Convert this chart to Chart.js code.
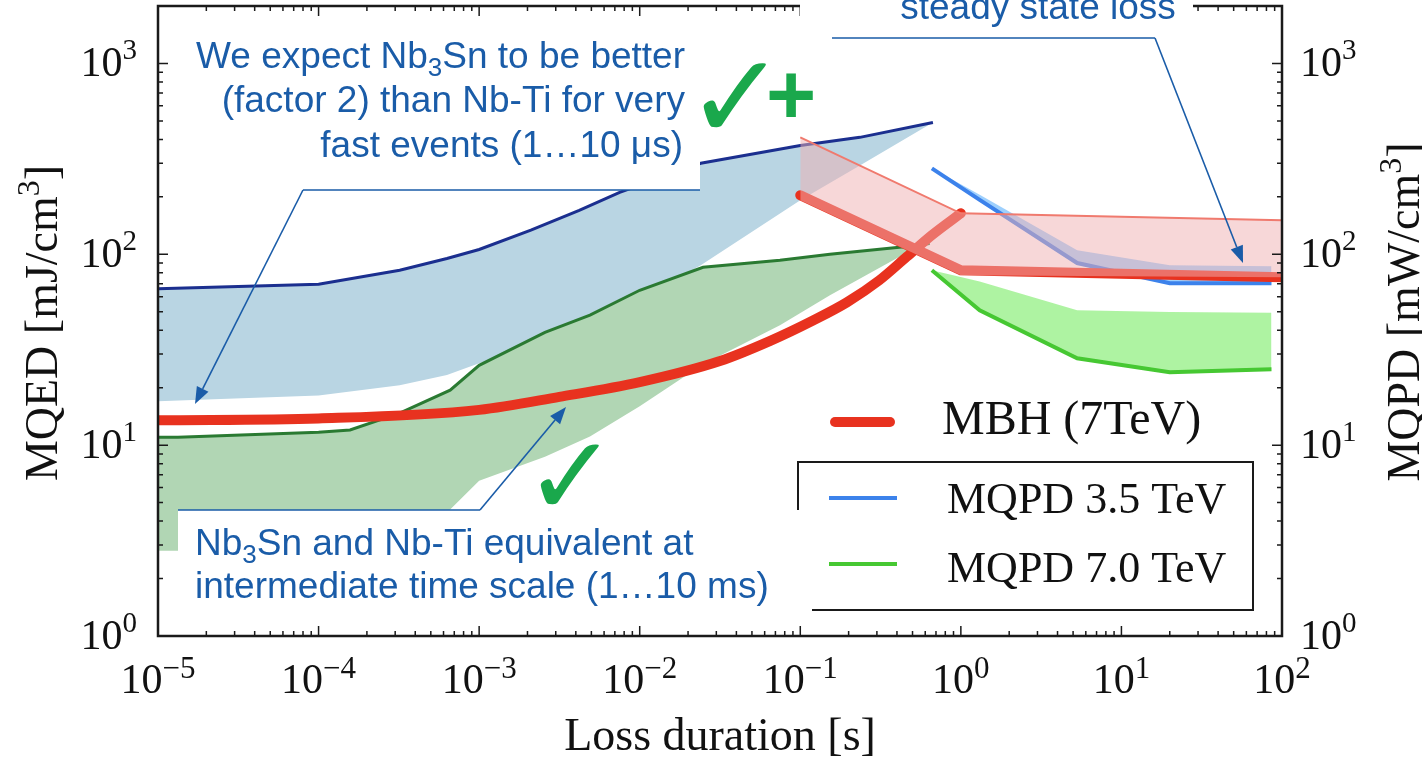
<!DOCTYPE html>
<html lang="pt-br">
<head>
<meta charset="utf-8">
<title>MQED / MQPD</title>
<script src="https://cdn.jsdelivr.net/npm/chart.js@4.4.1/dist/chart.umd.min.js"></script>
<style>
  body { margin: 0; background: #fff; }
  canvas { display: block; }
</style>
</head>
<body>
<canvas id="graficoQuench" width="1422" height="758"></canvas>
<script>
// Faixa azul (Nb3Sn): limite superior e inferior
var tempoNb3Sn = [1e-5, 1e-4, 3.2e-4, 6.3e-4, 1e-3, 2.1e-3, 4.2e-3, 7.5e-3, 0.024, 0.1, 0.235, 0.67];
var nb3snSup = [66, 69.7, 82.5, 95, 106, 134, 170, 211, 300, 372, 410, 491];
var nb3snInf = [17, 18.2, 20.6, 23.3, 26.9, 32, 40, 50, 87.6, 192, 292, 491];

// Faixa verde (Nb-Ti)
var tempoNbTi = [1e-5, 1.33e-5, 1e-4, 1.57e-4, 3.2e-4, 6.6e-4, 1e-3, 2.57e-3, 4.9e-3, 1e-2, 0.0248, 0.0747, 0.153, 0.46, 0.64];
var nbtiSup = [11.0, 11.0, 11.7, 12.0, 14.7, 19.4, 26.2, 39.0, 48, 64.8, 85.5, 93, 100, 110, 114];
var nbtiInf = [2.8, 2.8, 2.8, 2.9, 3.3, 4.6, 6.5, 8.7, 11.1, 16, 26.5, 42.5, 61, 102, 114];

// MBH (7TeV)
var tempoMBH = [1e-5, 1e-4, 1e-3, 3.16e-3, 1e-2, 3.16e-2, 6.5e-2, 0.12, 0.195, 0.31, 0.46, 0.66, 1.0];
var mbh = [13.5, 13.8, 15.3, 17.9, 21.4, 27.6, 35.2, 45, 56, 73, 97, 126, 164];

// Regime permanente (faixa rosa) e linha MBH correspondente
var tempoRegime = [0.1, 1, 100];
var regimeSup = [410, 164, 151];
var regimeInf = [192, 77.6, 75.8];
var mbhRegime = [204, 82.5, 75.8];

// MQPD 3.5 TeV e 7.0 TeV (eixo da direita)
var tempoMQPD = [0.66, 1.31, 5.3, 20, 86];
var mqpd35 = [282, 193, 90, 70.5, 70.5];
var mqpd35Sup = [282, 205, 105, 87.6, 86.7];
var mqpd70 = [82.5, 50.9, 28.5, 24.1, 25.0];
var mqpd70Sup = [82.5, 72, 50.9, 49.9, 49.4];

// expoentes das marcas principais
var decadasX = [-5, -4, -3, -2, -1, 0, 1, 2];
var decadasY = [0, 1, 2, 3];

var azulTexto = '#1a5ca8';
var vermelho = '#e8321f';
var fonteSerif = '"Liberation Serif", "DejaVu Serif", serif';
var fonteSans = '"Liberation Sans", Arial, sans-serif';

function pontos(xs, ys) {
  return xs.map(function (x, i) { return { x: x, y: ys[i] }; });
}

// escreve pedaços de texto em sequência (para expoentes e índices)
function escreve(ctx, partes, x, y, alinhamento) {
  var larg = 0;
  partes.forEach(function (p) { ctx.font = p[1]; larg += ctx.measureText(p[0]).width; });
  var x0 = x;
  if (alinhamento === 'center') x0 = x - larg / 2;
  if (alinhamento === 'right') x0 = x - larg;
  ctx.textAlign = 'left';
  partes.forEach(function (p) {
    ctx.font = p[1];
    ctx.fillText(p[0], x0, y + (p[2] || 0));
    x0 += ctx.measureText(p[0]).width;
  });
}

function seta(ctx, x1, y1, x2, y2) {
  var ang = Math.atan2(y2 - y1, x2 - x1), L = 17, W = 6.5;
  var bx = x2 - L * Math.cos(ang), by = y2 - L * Math.sin(ang);
  ctx.beginPath(); ctx.moveTo(x1, y1); ctx.lineTo(bx, by); ctx.stroke();
  ctx.beginPath(); ctx.moveTo(x2, y2);
  ctx.lineTo(bx + W * Math.sin(ang), by - W * Math.cos(ang));
  ctx.lineTo(bx - W * Math.sin(ang), by + W * Math.cos(ang));
  ctx.closePath(); ctx.fill();
}

// moldura, marcas para dentro nos quatro lados e rótulos dos eixos
var pluginEixos = {
  id: 'eixos',
  afterDatasetsDraw: function (chart) {
    var ctx = chart.ctx, a = chart.chartArea;
    var sx = chart.scales.x, sy = chart.scales.y;
    ctx.save();
    ctx.strokeStyle = '#1a1a1a';
    ctx.lineWidth = 1.5;
    ctx.beginPath();
    for (var e = -5; e <= 2; e++) {
      for (var k = 1; k <= 9; k++) {
        var v = k * Math.pow(10, e);
        if (v > 100) break;
        var px = sx.getPixelForValue(v);
        var t = k === 1 ? 10 : 5;
        ctx.moveTo(px, a.bottom); ctx.lineTo(px, a.bottom - t);
        ctx.moveTo(px, a.top); ctx.lineTo(px, a.top + t);
      }
    }
    for (var e2 = 0; e2 <= 3; e2++) {
      for (var k2 = 1; k2 <= 9; k2++) {
        var v2 = k2 * Math.pow(10, e2);
        if (v2 >= 2000) break;
        var py = sy.getPixelForValue(v2);
        var t2 = k2 === 1 ? 10 : 5;
        ctx.moveTo(a.left, py); ctx.lineTo(a.left + t2, py);
        ctx.moveTo(a.right, py); ctx.lineTo(a.right - t2, py);
      }
    }
    ctx.stroke();
    ctx.lineWidth = 2.5;
    ctx.strokeRect(a.left, a.top, a.right - a.left, a.bottom - a.top);

    ctx.fillStyle = '#111';
    ctx.textBaseline = 'alphabetic';
    var fBase = '42px ' + fonteSerif, fExp = '31px ' + fonteSerif;
    decadasX.forEach(function (e) {
      var px = sx.getPixelForValue(Math.pow(10, e));
      var exp = e < 0 ? '\u2212' + (-e) : String(e);
      escreve(ctx, [['10', fBase, 0], [exp, fExp, -15]], px, 693, 'center');
    });
    fExp = '29px ' + fonteSerif;
    decadasY.forEach(function (e) {
      var py = sy.getPixelForValue(Math.pow(10, e));
      escreve(ctx, [['10', fBase, 0], [String(e), fExp, -17]], 137, py + 13, 'right');
      escreve(ctx, [['10', fBase, 0], [String(e), fExp, -17]], 1300, py + 13, 'left');
    });

    var fTit = '46px ' + fonteSerif, fSup = '32px ' + fonteSerif;
    escreve(ctx, [['Loss duration [s]', fTit, 0]], 720, 750, 'center');
    ctx.save();
    ctx.translate(57, 323); ctx.rotate(-Math.PI / 2);
    escreve(ctx, [['MQED [mJ/cm', fTit, 0], ['3', fSup, -18], [']', fTit, 0]], 0, 0, 'center');
    ctx.restore();
    ctx.save();
    ctx.translate(1419, 312); ctx.rotate(-Math.PI / 2);
    escreve(ctx, [['MQPD [mW/cm', fTit, 0], ['3', fSup, -18], [']', fTit, 0]], 0, 0, 'center');
    ctx.restore();
    ctx.restore();
  }
};

// legendas, caixas de comentário, setas e marcas de verificação
var pluginNotas = {
  id: 'notas',
  afterDraw: function (chart) {
    var ctx = chart.ctx;
    ctx.save();
    ctx.lineCap = 'round';

    // legenda MBH
    ctx.strokeStyle = vermelho; ctx.lineWidth = 10;
    ctx.beginPath(); ctx.moveTo(835, 422); ctx.lineTo(890, 422); ctx.stroke();
    ctx.fillStyle = '#111';
    escreve(ctx, [['MBH (7TeV)', '48px ' + fonteSerif]], 942, 434, 'left');

    // legenda MQPD com moldura
    ctx.lineCap = 'butt';
    ctx.strokeStyle = '#1a1a1a'; ctx.lineWidth = 2;
    ctx.strokeRect(798, 462, 455, 148);
    ctx.lineWidth = 4;
    ctx.strokeStyle = '#3c82eb';
    ctx.beginPath(); ctx.moveTo(829, 498); ctx.lineTo(897, 498); ctx.stroke();
    ctx.strokeStyle = '#46c832';
    ctx.beginPath(); ctx.moveTo(829, 564); ctx.lineTo(897, 564); ctx.stroke();
    escreve(ctx, [['MQPD 3.5 TeV', '44px ' + fonteSerif]], 947, 513, 'left');
    escreve(ctx, [['MQPD 7.0 TeV', '44px ' + fonteSerif]], 947, 582, 'left');

    // caixas brancas dos comentários
    ctx.fillStyle = '#fff';
    ctx.fillRect(172, 20, 528, 170);
    ctx.fillRect(178, 510, 634, 115);
    ctx.fillRect(800, 0, 393, 38);

    var f = '37px ' + fonteSans, fInd = '26px ' + fonteSans;
    ctx.fillStyle = azulTexto;
    escreve(ctx, [['We expect Nb', f], ['3', fInd, 8], ['Sn to be better', f]], 685, 68, 'right');
    escreve(ctx, [['(factor 2) than Nb-Ti for very', f]], 685, 112, 'right');
    escreve(ctx, [['fast events (1\u202610 \u03bcs)', f]], 683, 157, 'right');
    escreve(ctx, [['Nb', f], ['3', fInd, 8], ['Sn and Nb-Ti equivalent at', f]], 195, 555, 'left');
    escreve(ctx, [['intermediate time scale (1\u202610 ms)', f]], 195, 598, 'left');
    escreve(ctx, [['steady state loss', f]], 1038, 19, 'center');

    // linhas das chamadas
    ctx.strokeStyle = azulTexto; ctx.lineWidth = 1.6;
    ctx.beginPath();
    ctx.moveTo(700, 190); ctx.lineTo(303, 190);
    ctx.moveTo(178, 510); ctx.lineTo(480, 510);
    ctx.moveTo(832, 38); ctx.lineTo(1155, 38);
    ctx.stroke();
    seta(ctx, 303, 190, 195, 404);
    seta(ctx, 480, 510, 566, 407);
    seta(ctx, 1155, 38, 1243, 263);

    // marcas de verificação
    ctx.fillStyle = '#1aa84c';
    ctx.textAlign = 'center'; ctx.textBaseline = 'middle';
    ctx.font = 'bold 120px "DejaVu Sans"';
    ctx.fillText('\u2713', 736, 108);
    ctx.font = 'bold 112px "DejaVu Sans"';
    ctx.fillText('\u2713', 571, 486);
    ctx.font = 'bold 86px ' + fonteSans;
    ctx.fillText('+', 791, 100);
    ctx.restore();
  }
};

var ctx = document.getElementById('graficoQuench').getContext('2d');
var chart = new Chart(ctx, {
  type: 'line',
  data: {
    datasets: [
      { // 0 Nb3Sn superior
        data: pontos(tempoNb3Sn, nb3snSup),
        borderColor: '#1b2f8f', borderWidth: 3,
        backgroundColor: '#b9d5e3', fill: '+1', order: 10
      },
      { // 1 Nb3Sn inferior
        data: pontos(tempoNb3Sn, nb3snInf),
        borderColor: 'transparent', borderWidth: 0, fill: false, order: 11
      },
      { // 2 Nb-Ti superior
        data: pontos(tempoNbTi, nbtiSup),
        borderColor: '#2a7a32', borderWidth: 3,
        backgroundColor: '#b1d6b4', fill: '+1', order: 9
      },
      { // 3 Nb-Ti inferior
        data: pontos(tempoNbTi, nbtiInf),
        borderColor: 'transparent', borderWidth: 0, fill: false, order: 12
      },
      { // 4 MBH
        data: pontos(tempoMBH, mbh),
        borderColor: vermelho, borderWidth: 10, fill: false,
        cubicInterpolationMode: 'monotone', borderCapStyle: 'round', order: 8
      },
      { // 5 MQPD 7.0 TeV
        data: pontos(tempoMQPD, mqpd70),
        borderColor: '#46c832', borderWidth: 4,
        backgroundColor: 'rgba(120,235,100,0.6)', fill: '+1', order: 7
      },
      { // 6 limite da faixa MQPD 7.0
        data: pontos(tempoMQPD, mqpd70Sup),
        borderColor: 'transparent', borderWidth: 0, fill: false, order: 13
      },
      { // 7 MQPD 3.5 TeV
        data: pontos(tempoMQPD, mqpd35),
        borderColor: '#3c82eb', borderWidth: 4,
        backgroundColor: 'rgba(40,150,250,0.45)', fill: '+1', order: 6
      },
      { // 8 limite da faixa MQPD 3.5
        data: pontos(tempoMQPD, mqpd35Sup),
        borderColor: 'transparent', borderWidth: 0, fill: false, order: 14
      },
      { // 9 MBH em regime permanente
        data: pontos(tempoRegime, mbhRegime),
        borderColor: vermelho, borderWidth: 10, fill: false,
        borderCapStyle: 'round', order: 5
      },
      { // 10 faixa rosa, limite superior
        data: pontos(tempoRegime, regimeSup),
        borderColor: '#f07a6e', borderWidth: 2,
        backgroundColor: 'rgba(240,175,178,0.5)', fill: '+1', order: 4
      },
      { // 11 faixa rosa, limite inferior
        data: pontos(tempoRegime, regimeInf),
        borderColor: 'transparent', borderWidth: 0, fill: false, order: 15
      }
    ]
  },
  options: {
    responsive: false,
    animation: false,
    layout: { padding: { top: 6, right: 140, left: 0, bottom: 0 } },
    elements: { point: { radius: 0, hoverRadius: 0 }, line: { tension: 0 } },
    scales: {
      x: {
        type: 'logarithmic', min: 1e-5, max: 100,
        grid: { display: false }, border: { display: false },
        ticks: { display: false },
        afterFit: function (s) { s.height = 122; }
      },
      y: {
        type: 'logarithmic', min: 1, max: 2000, position: 'left',
        grid: { display: false }, border: { display: false },
        ticks: { display: false },
        afterFit: function (s) { s.width = 158; }
      }
    },
    plugins: {
      legend: { display: false },
      tooltip: { enabled: false }
    }
  },
  plugins: [pluginEixos, pluginNotas]
});
</script>
</body>
</html>
